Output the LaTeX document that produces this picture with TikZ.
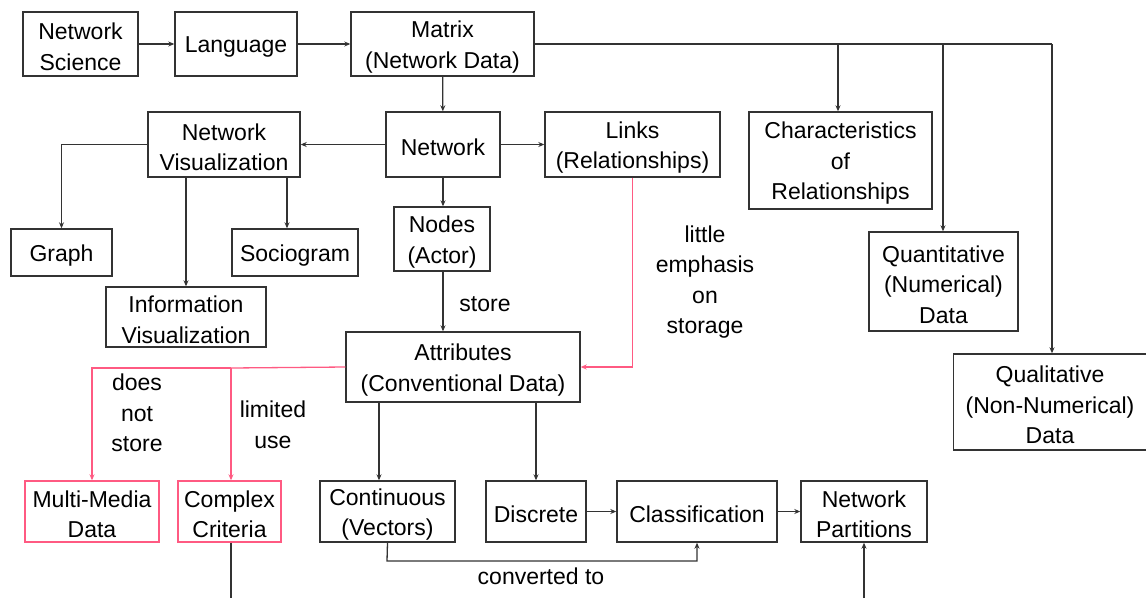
\documentclass[tikz,border=0pt]{standalone}
\usepackage{fontspec}
\setmainfont{Liberation Sans}
\usetikzlibrary{arrows.meta}
\definecolor{ink}{HTML}{333333}
\definecolor{rose}{HTML}{FF5A82}
\tikzset{
  lbl/.style={align=center, inner sep=0pt, font=\fontsize{23}{30.5}\selectfont, text=black},
  box/.style={draw=ink, line width=1.4pt, rectangle, inner sep=0pt,
    label={[lbl,yshift=-3pt]center:#1}},
  rbox/.style={box=#1, draw=rose},
  conn/.style={draw=ink, line width=1.3pt, -{Stealth[length=6pt,width=5pt]}},
  plain/.style={draw=ink, line width=1.3pt},
  rconn/.style={conn, draw=rose}
}
\begin{document}
\begin{tikzpicture}[x=1pt,y=-1pt]
\useasboundingbox (0,0) rectangle (1146,598);

% top row
\node[box={Network\\Science}, minimum width=115, minimum height=64] (ns) at (80.5,44) {};
\node[box={Language}, minimum width=122, minimum height=64] (lang) at (236,44) {};
\node[box={Matrix\\(Network Data)}, minimum width=183, minimum height=64] (mat) at (442.5,44) {};

% second row
\node[box={Network\\Visualization}, minimum width=152, minimum height=65] (vis) at (224,144.5) {};
\node[box={Network}, minimum width=114, minimum height=65] (net) at (443,144.5) {};
\node[box={Links\\(Relationships)}, minimum width=175, minimum height=65] (links) at (632.5,144.5) {};
\node[box={Characteristics\\of\\Relationships}, minimum width=183, minimum height=97] (chr) at (840.5,160.5) {};

% visualisation leaves
\node[box={Graph}, minimum width=101, minimum height=47] (graph) at (61.5,252.5) {};
\node[box={Sociogram}, minimum width=126, minimum height=47] (socio) at (295,252.5) {};
\node[box={Information\\Visualization}, minimum width=160, minimum height=60] (info) at (186,317) {};

% nodes and attributes
\node[box={Nodes\\(Actor)}, minimum width=96, minimum height=64] (nodes) at (442,239) {};
\node[box={Attributes\\(Conventional Data)}, minimum width=234, minimum height=70] (attr) at (463,367) {};

% matrix data kinds
\node[box={Quantitative\\(Numerical)\\Data}, minimum width=149, minimum height=99] (quant) at (943.5,281.5) {};
\node[box={Qualitative\\(Non-Numerical)\\Data}, minimum width=193, minimum height=96] (qual) at (1050,402) {};

% bottom row
\node[rbox={Multi-Media\\Data}, minimum width=134, minimum height=61] (mm) at (92,511.5) {};
\node[rbox={Complex\\Criteria}, minimum width=103, minimum height=61] (cc) at (229.5,511.5) {};
\node[box={Continuous\\(Vectors)}, minimum width=135, minimum height=61] (cont) at (387.5,511.5) {};
\node[box={Discrete}, minimum width=100, minimum height=61] (disc) at (536,511.5) {};
\node[box={Classification}, minimum width=160, minimum height=61] (cls) at (697,511.5) {};
\node[box={Network\\Partitions}, minimum width=126, minimum height=61] (part) at (864,511.5) {};

% connector labels
\node[lbl] (lstore) at (485,304) {store};
\node[lbl] (lemph) at (705,282) {little\\emphasis\\on\\storage};
\node[lbl] (ldns) at (137,413) {does\\not\\store};
\node[lbl] (llim) at (273,425) {limited\\use};
\node[lbl] (lconv) at (541,576) {converted to};

% free ends at the lower edge
\coordinate (ccend) at (231,598);
\coordinate (partin) at (864,598);

% main chain
\draw[conn] (ns) -- (lang);
\draw[conn] (lang) -- (mat);
\draw[conn] (mat) -- (net);
\draw[plain] (mat.east) -- (1052,44);
\draw[conn] (838,44) -- (chr.north -| 838,0);
\draw[conn] (943,44) -- (quant.north -| 943,0);
\draw[conn] (1052,44) -- (qual.north -| 1052,0);

% network branches
\draw[conn] (net) -- (vis);
\draw[conn] (net) -- (links);
\draw[conn] (net) -- (nodes.north -| net);
\draw[conn] (vis.west) -| (graph.north);
\draw[conn] (vis.south -| info) -- (info.north);
\draw[conn] (vis.south -| 287,0) -- (socio.north -| 287,0);

% storage
\draw[conn] (nodes.south -| net) -- (attr.north -| net);
\draw[rconn] (links.south) |- (attr.east);
\draw[draw=rose, line width=1.3pt] (attr.west) -- (231,368);
\draw[rconn] (231,368) -| (mm.north);
\draw[rconn] (231,368) -- (cc.north -| 231,0);

% attribute types
\draw[conn] (attr.south -| 379,0) -- (cont.north -| 379,0);
\draw[conn] (attr.south -| disc) -- (disc.north);
\draw[conn] (disc) -- (cls);
\draw[conn] (cls) -- (part);
\draw[conn] (cont.south) -- (387,561) -| (cls.south);

% continuing below
\draw[plain] (cc.south -| 231,0) -- (ccend);
\draw[conn] (partin) -- (part.south);
\end{tikzpicture}
\end{document}
